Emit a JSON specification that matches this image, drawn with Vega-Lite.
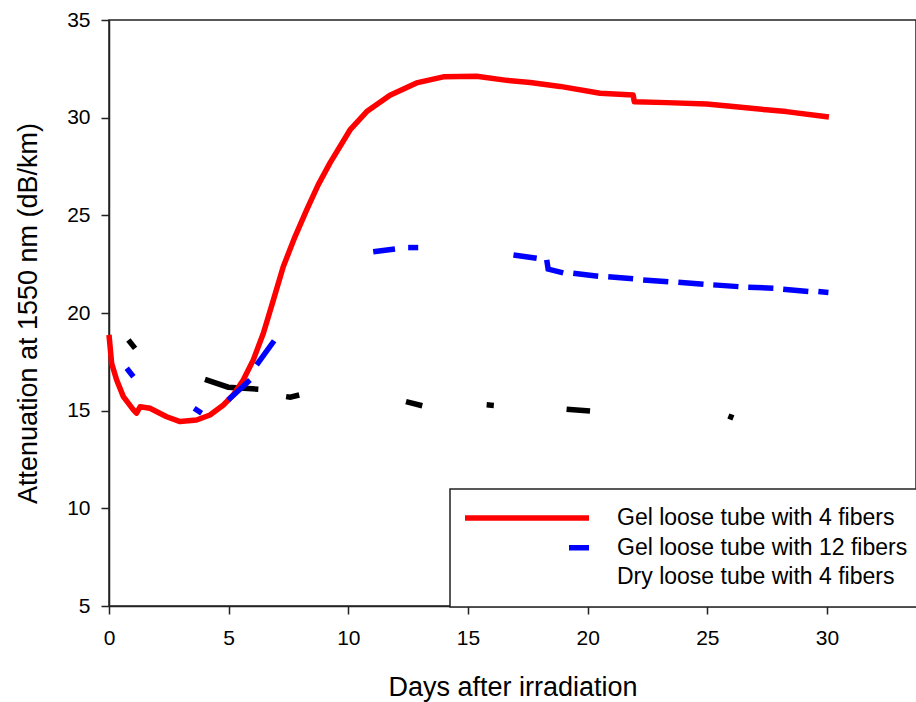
{
  "$schema": "https://vega.github.io/schema/vega-lite/v6.json",
  "width": 807,
  "height": 586,
  "autosize": {"type": "none"},
  "padding": {"left": 109, "top": 20, "right": 0, "bottom": 96},
  "config": {
    "font": "Liberation Sans",
    "view": {"stroke": "#222", "strokeWidth": 1.5},
    "axis": {
      "grid": false,
      "labelFlush": false,
      "domainColor": "#222",
      "domainWidth": 1.5,
      "tickColor": "#222",
      "tickWidth": 1.5,
      "tickSize": 8,
      "labelColor": "black",
      "labelFontSize": 21,
      "titleColor": "black",
      "titleFontSize": 27,
      "titleFontWeight": "normal"
    }
  },
  "datasets": {
    "curves": [
      {"series": "Gel loose tube with 4 fibers", "seg": "R", "day": 0, "att": 18.88},
      {"series": "Gel loose tube with 4 fibers", "seg": "R", "day": 0.11, "att": 17.43},
      {"series": "Gel loose tube with 4 fibers", "seg": "R", "day": 0.32, "att": 16.57},
      {"series": "Gel loose tube with 4 fibers", "seg": "R", "day": 0.6, "att": 15.72},
      {"series": "Gel loose tube with 4 fibers", "seg": "R", "day": 1.02, "att": 15.04},
      {"series": "Gel loose tube with 4 fibers", "seg": "R", "day": 1.15, "att": 14.87},
      {"series": "Gel loose tube with 4 fibers", "seg": "R", "day": 1.3, "att": 15.2},
      {"series": "Gel loose tube with 4 fibers", "seg": "R", "day": 1.71, "att": 15.12},
      {"series": "Gel loose tube with 4 fibers", "seg": "R", "day": 2.41, "att": 14.69},
      {"series": "Gel loose tube with 4 fibers", "seg": "R", "day": 2.97, "att": 14.44},
      {"series": "Gel loose tube with 4 fibers", "seg": "R", "day": 3.66, "att": 14.52},
      {"series": "Gel loose tube with 4 fibers", "seg": "R", "day": 4.22, "att": 14.78},
      {"series": "Gel loose tube with 4 fibers", "seg": "R", "day": 4.78, "att": 15.29},
      {"series": "Gel loose tube with 4 fibers", "seg": "R", "day": 5.19, "att": 15.8},
      {"series": "Gel loose tube with 4 fibers", "seg": "R", "day": 5.61, "att": 16.57},
      {"series": "Gel loose tube with 4 fibers", "seg": "R", "day": 6.03, "att": 17.6},
      {"series": "Gel loose tube with 4 fibers", "seg": "R", "day": 6.45, "att": 18.96},
      {"series": "Gel loose tube with 4 fibers", "seg": "R", "day": 6.87, "att": 20.67},
      {"series": "Gel loose tube with 4 fibers", "seg": "R", "day": 7.28, "att": 22.37},
      {"series": "Gel loose tube with 4 fibers", "seg": "R", "day": 7.77, "att": 23.9},
      {"series": "Gel loose tube with 4 fibers", "seg": "R", "day": 8.26, "att": 25.28},
      {"series": "Gel loose tube with 4 fibers", "seg": "R", "day": 8.74, "att": 26.56},
      {"series": "Gel loose tube with 4 fibers", "seg": "R", "day": 9.23, "att": 27.67},
      {"series": "Gel loose tube with 4 fibers", "seg": "R", "day": 10.07, "att": 29.37},
      {"series": "Gel loose tube with 4 fibers", "seg": "R", "day": 10.77, "att": 30.31},
      {"series": "Gel loose tube with 4 fibers", "seg": "R", "day": 11.74, "att": 31.15},
      {"series": "Gel loose tube with 4 fibers", "seg": "R", "day": 12.85, "att": 31.78},
      {"series": "Gel loose tube with 4 fibers", "seg": "R", "day": 13.97, "att": 32.09},
      {"series": "Gel loose tube with 4 fibers", "seg": "R", "day": 15.36, "att": 32.12},
      {"series": "Gel loose tube with 4 fibers", "seg": "R", "day": 16.62, "att": 31.91},
      {"series": "Gel loose tube with 4 fibers", "seg": "R", "day": 17.6, "att": 31.8},
      {"series": "Gel loose tube with 4 fibers", "seg": "R", "day": 18.85, "att": 31.6},
      {"series": "Gel loose tube with 4 fibers", "seg": "R", "day": 20.52, "att": 31.25},
      {"series": "Gel loose tube with 4 fibers", "seg": "R", "day": 21.9, "att": 31.16},
      {"series": "Gel loose tube with 4 fibers", "seg": "R", "day": 21.95, "att": 30.82},
      {"series": "Gel loose tube with 4 fibers", "seg": "R", "day": 23.3, "att": 30.77},
      {"series": "Gel loose tube with 4 fibers", "seg": "R", "day": 24.97, "att": 30.7},
      {"series": "Gel loose tube with 4 fibers", "seg": "R", "day": 26.08, "att": 30.57},
      {"series": "Gel loose tube with 4 fibers", "seg": "R", "day": 27.47, "att": 30.4},
      {"series": "Gel loose tube with 4 fibers", "seg": "R", "day": 28.3, "att": 30.31},
      {"series": "Gel loose tube with 4 fibers", "seg": "R", "day": 30.08, "att": 30.03},

      {"series": "Gel loose tube with 12 fibers", "seg": "B1", "day": 0.74, "att": 17.17},
      {"series": "Gel loose tube with 12 fibers", "seg": "B1", "day": 1.02, "att": 16.74},
      {"series": "Gel loose tube with 12 fibers", "seg": "B2", "day": 3.56, "att": 15.12},
      {"series": "Gel loose tube with 12 fibers", "seg": "B2", "day": 3.87, "att": 14.87},
      {"series": "Gel loose tube with 12 fibers", "seg": "B3", "day": 4.98, "att": 15.55},
      {"series": "Gel loose tube with 12 fibers", "seg": "B3", "day": 5.89, "att": 16.57},
      {"series": "Gel loose tube with 12 fibers", "seg": "B4", "day": 6.17, "att": 17.34},
      {"series": "Gel loose tube with 12 fibers", "seg": "B4", "day": 6.9, "att": 18.58},
      {"series": "Gel loose tube with 12 fibers", "seg": "B5", "day": 11.04, "att": 23.14},
      {"series": "Gel loose tube with 12 fibers", "seg": "B5", "day": 11.95, "att": 23.28},
      {"series": "Gel loose tube with 12 fibers", "seg": "B6", "day": 12.5, "att": 23.35},
      {"series": "Gel loose tube with 12 fibers", "seg": "B6", "day": 12.92, "att": 23.35},
      {"series": "Gel loose tube with 12 fibers", "seg": "B7", "day": 16.9, "att": 22.97},
      {"series": "Gel loose tube with 12 fibers", "seg": "B7", "day": 17.87, "att": 22.8},
      {"series": "Gel loose tube with 12 fibers", "seg": "B8", "day": 18.29, "att": 22.72},
      {"series": "Gel loose tube with 12 fibers", "seg": "B8", "day": 18.35, "att": 22.25},
      {"series": "Gel loose tube with 12 fibers", "seg": "B8", "day": 18.98, "att": 22.05},
      {"series": "Gel loose tube with 12 fibers", "seg": "B9", "day": 19.4, "att": 22.03},
      {"series": "Gel loose tube with 12 fibers", "seg": "B9", "day": 20.44, "att": 21.88},
      {"series": "Gel loose tube with 12 fibers", "seg": "B10", "day": 20.86, "att": 21.86},
      {"series": "Gel loose tube with 12 fibers", "seg": "B10", "day": 21.9, "att": 21.75},
      {"series": "Gel loose tube with 12 fibers", "seg": "B11", "day": 22.32, "att": 21.69},
      {"series": "Gel loose tube with 12 fibers", "seg": "B11", "day": 23.37, "att": 21.6},
      {"series": "Gel loose tube with 12 fibers", "seg": "B12", "day": 23.79, "att": 21.58},
      {"series": "Gel loose tube with 12 fibers", "seg": "B12", "day": 24.84, "att": 21.47},
      {"series": "Gel loose tube with 12 fibers", "seg": "B13", "day": 25.25, "att": 21.44},
      {"series": "Gel loose tube with 12 fibers", "seg": "B13", "day": 26.3, "att": 21.35},
      {"series": "Gel loose tube with 12 fibers", "seg": "B14", "day": 26.71, "att": 21.32},
      {"series": "Gel loose tube with 12 fibers", "seg": "B14", "day": 27.76, "att": 21.27},
      {"series": "Gel loose tube with 12 fibers", "seg": "B15", "day": 28.17, "att": 21.22},
      {"series": "Gel loose tube with 12 fibers", "seg": "B15", "day": 29.22, "att": 21.1},
      {"series": "Gel loose tube with 12 fibers", "seg": "B16", "day": 29.64, "att": 21.1},
      {"series": "Gel loose tube with 12 fibers", "seg": "B16", "day": 30.06, "att": 21.05},

      {"series": "Dry loose tube with 4 fibers", "seg": "K1", "day": 0.81, "att": 18.62},
      {"series": "Dry loose tube with 4 fibers", "seg": "K1", "day": 1.09, "att": 18.19},
      {"series": "Dry loose tube with 4 fibers", "seg": "K2", "day": 4.01, "att": 16.6},
      {"series": "Dry loose tube with 4 fibers", "seg": "K2", "day": 4.98, "att": 16.2},
      {"series": "Dry loose tube with 4 fibers", "seg": "K2", "day": 6.24, "att": 16.1},
      {"series": "Dry loose tube with 4 fibers", "seg": "K3", "day": 7.4, "att": 15.72},
      {"series": "Dry loose tube with 4 fibers", "seg": "K3", "day": 7.57, "att": 15.69},
      {"series": "Dry loose tube with 4 fibers", "seg": "K3", "day": 7.95, "att": 15.8},
      {"series": "Dry loose tube with 4 fibers", "seg": "K4", "day": 12.41, "att": 15.46},
      {"series": "Dry loose tube with 4 fibers", "seg": "K4", "day": 13.09, "att": 15.25},
      {"series": "Dry loose tube with 4 fibers", "seg": "K5", "day": 15.78, "att": 15.3},
      {"series": "Dry loose tube with 4 fibers", "seg": "K5", "day": 16.08, "att": 15.27},
      {"series": "Dry loose tube with 4 fibers", "seg": "K6", "day": 19.12, "att": 15.07},
      {"series": "Dry loose tube with 4 fibers", "seg": "K6", "day": 20.1, "att": 14.98},
      {"series": "Dry loose tube with 4 fibers", "seg": "K7", "day": 25.88, "att": 14.73},
      {"series": "Dry loose tube with 4 fibers", "seg": "K7", "day": 26.09, "att": 14.63}
    ]
  },
  "data": {"name": "curves"},
  "encoding": {
    "x": {
      "field": "day",
      "type": "quantitative",
      "scale": {"domain": [0, 33.72], "nice": false, "zero": false},
      "axis": {"title": "Days after irradiation", "values": [0, 5, 10, 15, 20, 25, 30], "labelPadding": 13, "titlePadding": 26}
    },
    "y": {
      "field": "att",
      "type": "quantitative",
      "scale": {"domain": [5, 35], "nice": false, "zero": false},
      "axis": {"title": "Attenuation at 1550 nm (dB/km)", "values": [5, 10, 15, 20, 25, 30, 35], "labelPadding": 11, "titlePadding": 24}
    },
    "color": {
      "field": "series",
      "type": "nominal",
      "scale": {
        "domain": ["Gel loose tube with 4 fibers", "Gel loose tube with 12 fibers", "Dry loose tube with 4 fibers"],
        "range": ["#ff0000", "#0000ff", "#000000"]
      },
      "legend": {
        "title": null,
        "orient": "none",
        "legendX": 341,
        "legendY": 469,
        "symbolType": "stroke",
        "symbolSize": 15625,
        "symbolStrokeWidth": 5.5,
        "symbolOffset": -4,
        "clipHeight": 28,
        "rowPadding": 1.7,
        "padding": 15,
        "labelOffset": 25,
        "labelFontSize": 23,
        "labelColor": "black",
        "labelLimit": 500,
        "strokeColor": "#222",
        "fillColor": "white",
        "encode": {
          "legend": {"update": {"strokeWidth": {"value": 1.5}}},
          "symbols": {
            "update": {
              "strokeCap": {"value": "butt"},
              "strokeDash": {"signal": "datum.value === 'Gel loose tube with 12 fibers' ? [0, 105, 20, 60] : datum.value === 'Dry loose tube with 4 fibers' ? [0, 300] : [1000, 1]"}
            }
          }
        }
      }
    },
    "detail": {"field": "seg", "type": "nominal"}
  },
  "layer": [
    {
      "transform": [{"filter": "datum.series === 'Dry loose tube with 4 fibers'"}],
      "mark": {"type": "line", "strokeWidth": 5.5, "strokeCap": "butt"}
    },
    {
      "transform": [{"filter": "datum.series === 'Gel loose tube with 4 fibers'"}],
      "mark": {"type": "line", "strokeWidth": 5.5, "strokeCap": "butt", "strokeJoin": "round"}
    },
    {
      "transform": [{"filter": "datum.series === 'Gel loose tube with 12 fibers'"}],
      "mark": {"type": "line", "strokeWidth": 5.5, "strokeCap": "butt"}
    }
  ]
}
